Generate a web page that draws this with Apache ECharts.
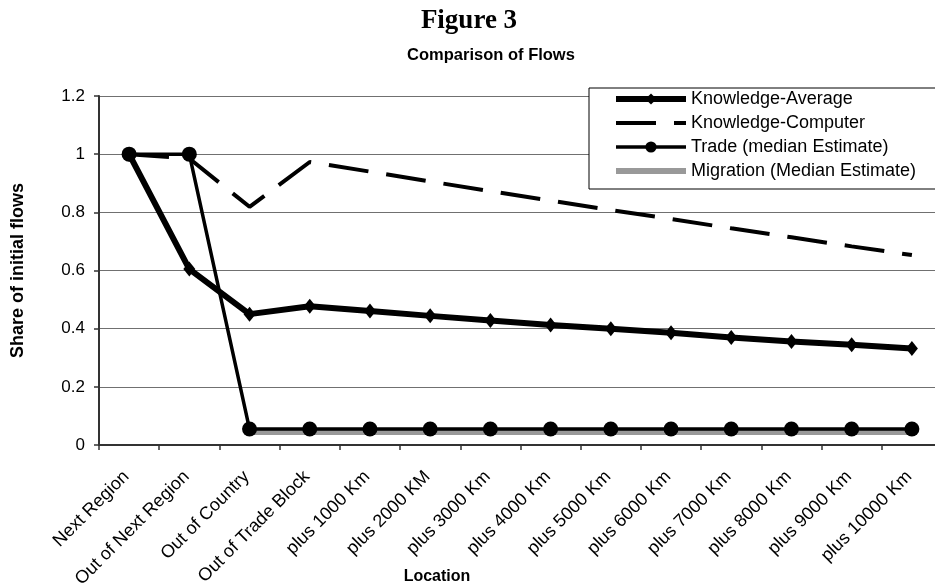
<!DOCTYPE html>
<html>
<head>
<meta charset="utf-8">
<script src="https://cdn.jsdelivr.net/npm/echarts@6/dist/echarts.min.js"></script>
<style>
html,body{margin:0;padding:0;background:#fff;}
#chart{width:935px;height:585px;}
</style>
</head>
<body>
<div id="chart"></div>
<script>
const categories = ['Next Region','Out of Next Region','Out of Country','Out of Trade Block','plus 1000 Km','plus 2000 KM','plus 3000 Km','plus 4000 Km','plus 5000 Km','plus 6000 Km','plus 7000 Km','plus 8000 Km','plus 9000 Km','plus 10000 Km'];
const knowledgeAverage = [1.0, 0.605, 0.45, 0.477, 0.461, 0.444, 0.428, 0.413, 0.400, 0.386, 0.370, 0.356, 0.345, 0.332];
const knowledgeComputer = [1.0, 0.985, 0.819, 0.973, 0.940, 0.906, 0.873, 0.840, 0.808, 0.777, 0.745, 0.714, 0.683, 0.653];
const trade = [1.0, 1.0, 0.055, 0.055, 0.055, 0.055, 0.055, 0.055, 0.055, 0.055, 0.055, 0.055, 0.055, 0.055];
const migration = [null, null, 0.045, 0.045, 0.045, 0.045, 0.045, 0.045, 0.045, 0.045, 0.045, 0.045, 0.045, 0.045];
const seriesNames = ['Knowledge-Average','Knowledge-Computer','Trade (median Estimate)','Migration (Median Estimate)'];
const yTicks = {min: 0, max: 1.2, interval: 0.2};

const SANS = '"Liberation Sans", Arial, sans-serif';
const SERIF = '"Liberation Serif", "Times New Roman", serif';

const chart = echarts.init(document.getElementById('chart'), null, {renderer: 'canvas'});
chart.setOption({
  animation: false,
  backgroundColor: '#fff',
  graphic: [
    {type: 'text', x: 469, y: 21, style: {text: 'Figure 3', font: 'bold 27px ' + SERIF, fill: '#000', textAlign: 'center', textVerticalAlign: 'middle'}},
    {type: 'text', x: 491, y: 55, style: {text: 'Comparison of Flows', font: 'bold 16.5px ' + SANS, fill: '#000', textAlign: 'center', textVerticalAlign: 'middle'}},
    {type: 'text', x: 437, y: 577, style: {text: 'Location', font: 'bold 16px ' + SANS, fill: '#000', textAlign: 'center', textVerticalAlign: 'middle'}}
  ],
  legend: {
    orient: 'vertical',
    left: 589,
    top: 88,
    data: [
      {name: seriesNames[0], lineStyle: {width: 6, color: '#000'}, itemStyle: {color: '#000'}},
      {name: seriesNames[1], lineStyle: {width: 4, color: '#000', type: [40, 18]}, itemStyle: {opacity: 0}},
      {name: seriesNames[2], lineStyle: {width: 3.5, color: '#000'}, itemStyle: {color: '#000'}},
      {name: seriesNames[3], lineStyle: {width: 6, color: '#999'}, itemStyle: {opacity: 0}}
    ],
    itemWidth: 70,
    itemHeight: 14,
    itemGap: 6,
    padding: [2, 40, 9, 24],
    borderColor: '#000',
    borderWidth: 1,
    backgroundColor: '#fff',
    textStyle: {fontFamily: SANS, fontSize: 18, color: '#000', lineHeight: 18}
  },
  grid: {left: 99, right: -7, top: 96, bottom: 140, containLabel: false, outerBoundsMode: 'none'},
  xAxis: {
    type: 'category',
    data: categories,
    boundaryGap: true,
    axisLine: {lineStyle: {color: '#333', width: 2}},
    axisTick: {show: true, length: 5, lineStyle: {color: '#333', width: 1.5}},
    axisLabel: {rotate: 45, interval: 0, margin: 26, padding: [0, 4, 0, 0], fontFamily: SANS, fontSize: 18, color: '#000'},
    splitLine: {show: false}
  },
  yAxis: {
    type: 'value',
    min: yTicks.min, max: yTicks.max, interval: yTicks.interval,
    name: 'Share of initial flows',
    nameLocation: 'middle',
    nameGap: 72,
    nameTextStyle: {fontFamily: SANS, fontSize: 18, fontWeight: 'bold', color: '#000'},
    axisLine: {show: true, lineStyle: {color: '#333', width: 2}},
    axisTick: {show: true, length: 5, lineStyle: {color: '#333', width: 1.5}},
    axisLabel: {margin: 14, fontFamily: SANS, fontSize: 17, color: '#000'},
    splitLine: {show: true, lineStyle: {color: '#707070', width: 1.2}}
  },
  series: [
    {name: seriesNames[3], type: 'line', data: migration, symbol: 'none', connectNulls: false,
     lineStyle: {color: '#999', width: 6}, itemStyle: {color: '#999'}, z: 2},
    {name: seriesNames[1], type: 'line', data: knowledgeComputer, symbol: 'none',
     lineStyle: {color: '#000', width: 4, type: [40, 18]}, itemStyle: {color: '#000'}, z: 3},
    {name: seriesNames[0], type: 'line', data: knowledgeAverage, symbol: 'diamond', symbolSize: [12, 15],
     lineStyle: {color: '#000', width: 6}, itemStyle: {color: '#000'}, z: 4},
    {name: seriesNames[2], type: 'line', data: trade, symbol: 'circle', symbolSize: 15,
     lineStyle: {color: '#000', width: 3.5}, itemStyle: {color: '#000'}, z: 5}
  ]
});
</script>
</body>
</html>
